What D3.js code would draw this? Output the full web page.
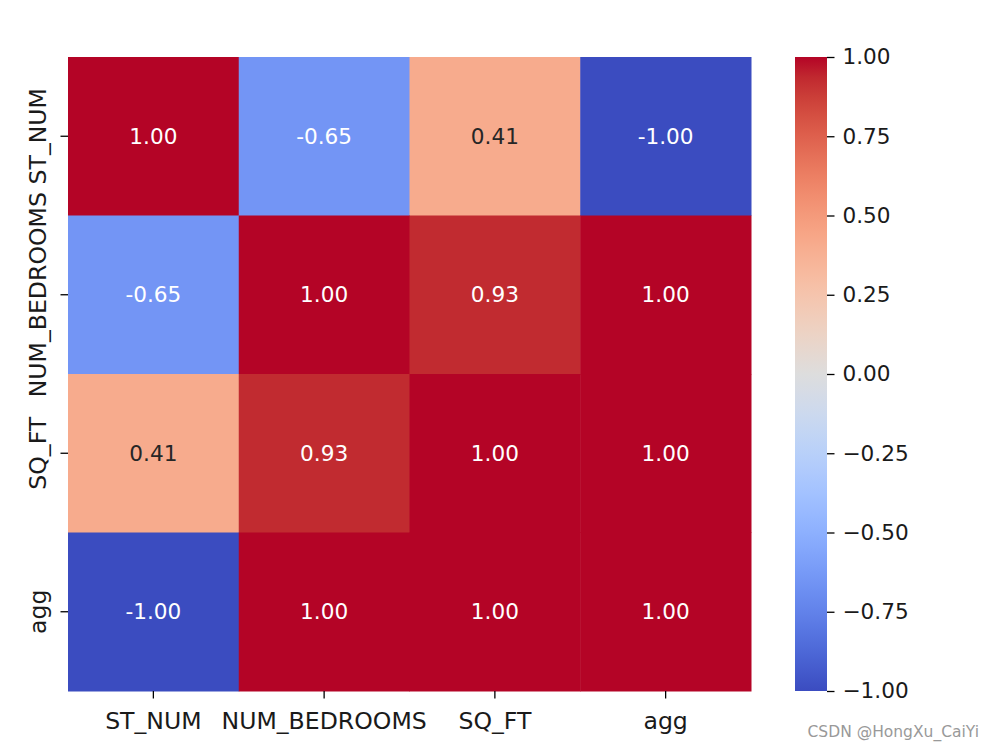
<!DOCTYPE html>
<html><head><meta charset="utf-8">
<script src="https://cdn.jsdelivr.net/npm/d3@7/dist/d3.min.js"></script>
<style>body{margin:0;background:#fff}svg text{font-family:"DejaVu Sans",sans-serif}</style>
</head><body>
<script>
const labels = ["ST_NUM","NUM_BEDROOMS","SQ_FT","agg"];
const values = [
  [1.00,-0.65,0.41,-1.00],
  [-0.65,1.00,0.93,1.00],
  [0.41,0.93,1.00,1.00],
  [-1.00,1.00,1.00,1.00]
];
const cbTicks = [1.00,0.75,0.50,0.25,0.00,-0.25,-0.50,-0.75,-1.00];
// Moreland coolwarm table
const cw = [[59,76,192],[68,90,204],[77,104,215],[87,117,225],[98,130,234],[108,142,241],[119,154,247],[130,165,251],[141,176,254],[152,185,255],[163,194,255],[174,201,253],[184,208,249],[194,213,244],[204,217,238],[213,219,230],[221,221,221],[229,216,209],[236,211,197],[241,204,185],[245,196,173],[247,187,160],[247,177,148],[247,166,135],[244,154,123],[241,141,111],[236,127,99],[229,112,88],[222,96,77],[213,80,66],[203,62,56],[192,40,47],[180,4,38]];
function coolwarm(t){
  t=Math.max(0,Math.min(1,t));
  const n=cw.length-1, p=t*n, i=Math.min(n-1,Math.floor(p)), f=p-i;
  const a=cw[i], b=cw[i+1];
  return [0,1,2].map(k=>a[k]+(b[k]-a[k])*f);
}
const color = v => { const c=coolwarm((v+1)/2); return `rgb(${c.map(Math.round).join(",")})`; };
function textColor(v){
  const c=coolwarm((v+1)/2).map(x=>{x/=255;return x<=0.03928?x/12.92:Math.pow((x+0.055)/1.055,2.4)});
  const lum=0.2126*c[0]+0.7152*c[1]+0.0722*c[2];
  return lum>0.408?"#262626":"#ffffff";
}
const W=994,H=750;
const svg=d3.select("body").append("svg").attr("width",W).attr("height",H);
const L=68,R=751,T=57,B=691;
const x=d3.scaleBand().domain(labels).range([L,R]);
const y=d3.scaleBand().domain(labels).range([T,B]);
const cells=[];
values.forEach((row,i)=>row.forEach((v,j)=>cells.push({r:labels[i],c:labels[j],v})));
const g=svg.append("g");
g.selectAll("rect").data(cells).join("rect")
  .attr("x",d=>x(d.c)).attr("y",d=>y(d.r))
  .attr("width",x.bandwidth()+0.5).attr("height",y.bandwidth()+0.5)
  .attr("fill",d=>color(d.v));
g.selectAll("text").data(cells).join("text")
  .attr("x",d=>x(d.c)+x.bandwidth()/2).attr("y",d=>y(d.r)+y.bandwidth()/2)
  .attr("text-anchor","middle").attr("dominant-baseline","central")
  .attr("font-size","21.6px").attr("fill",d=>textColor(d.v))
  .text(d=>d.v.toFixed(2));
const fs="21.6px", lfs="23.6px";
// x axis
const xa=svg.append("g").attr("transform",`translate(0,${B})`)
  .call(d3.axisBottom(x).tickSize(7.5).tickPadding(14));
xa.select(".domain").remove();
xa.selectAll("line").attr("stroke","#000").attr("stroke-width",1.3);
xa.selectAll("text").attr("font-size",lfs).attr("fill","#1a1a1a").attr("font-family","DejaVu Sans");
// y axis
const ya=svg.append("g").attr("transform",`translate(${L},0)`)
  .call(d3.axisLeft(y).tickSize(7.5).tickPadding(0));
ya.select(".domain").remove();
ya.selectAll("line").attr("stroke","#000").attr("stroke-width",1.3);
ya.selectAll("text").attr("font-size",lfs).attr("fill","#1a1a1a").attr("font-family","DejaVu Sans")
  .attr("x",0).attr("text-anchor","middle").attr("dominant-baseline",null)
  .attr("transform","translate(-30.5,0) rotate(-90)").attr("y",0).attr("dy","0.36em");
// colorbar
const cbL=795,cbR=827;
const cy=d3.scaleLinear().domain([-1,1]).range([B,T]);
const defs=svg.append("defs");
const grad=defs.append("linearGradient").attr("id","cw").attr("x1",0).attr("y1",1).attr("x2",0).attr("y2",0);
cw.forEach((c,i)=>grad.append("stop").attr("offset",i/(cw.length-1)).attr("stop-color",`rgb(${c.join(",")})`));
svg.append("rect").attr("x",cbL).attr("y",T).attr("width",cbR-cbL).attr("height",B-T).attr("fill","url(#cw)");
const ca=svg.append("g").attr("transform",`translate(${cbR},0)`)
  .call(d3.axisRight(cy).tickValues(cbTicks).tickSize(7.5).tickPadding(8)
    .tickFormat(v=>d3.format(".2f")(v).replace("-","\u2212")));
ca.select(".domain").remove();
ca.selectAll("line").attr("stroke","#000").attr("stroke-width",1.3);
ca.selectAll("text").attr("font-size",fs).attr("fill","#1a1a1a").attr("font-family","DejaVu Sans");
// watermark
svg.append("text").attr("x",979).attr("y",737).attr("text-anchor","end")
  .attr("font-size","15.5px").attr("fill","#999").attr("font-family","Liberation Sans, Arial, sans-serif")
  .text("CSDN @HongXu_CaiYi");
</script>
</body></html>
